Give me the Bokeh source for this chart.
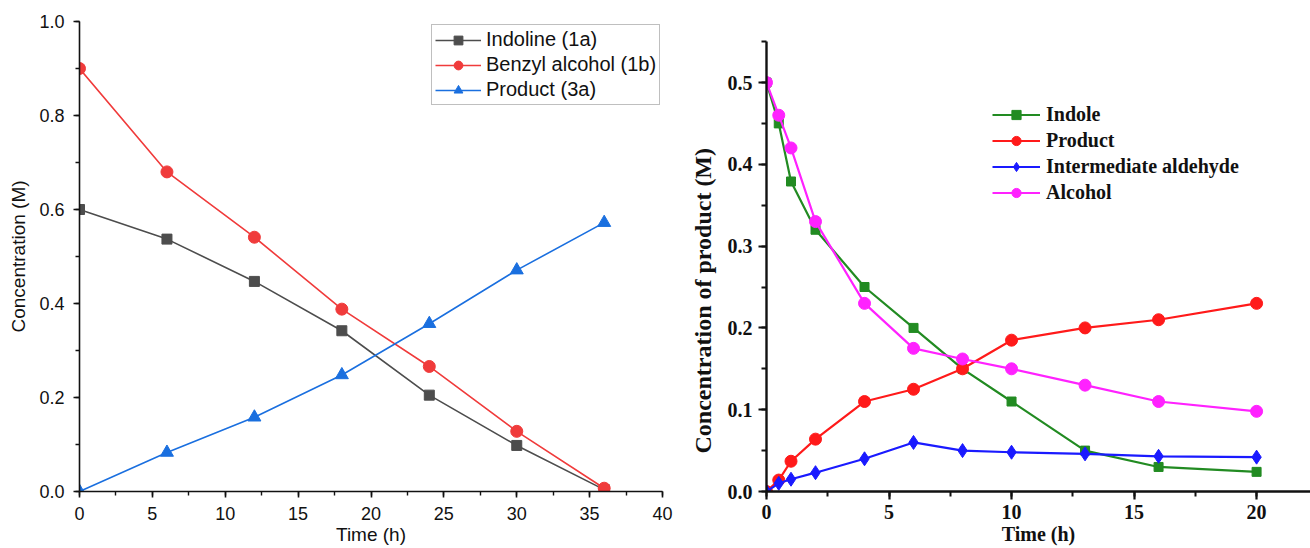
from bokeh.plotting import figure
from bokeh.layouts import row
from bokeh.models import Range1d, SingleIntervalTicker, PrintfTickFormatter, Title
from bokeh.embed import file_html
from bokeh.resources import INLINE

# ---------------- Left panel data ----------------
time_left = [0, 6, 12, 18, 24, 30, 36]
indoline = [0.600, 0.537, 0.447, 0.342, 0.205, 0.098, 0.004]
benzyl_alcohol = [0.900, 0.680, 0.541, 0.388, 0.266, 0.128, 0.007]
product_3a = [0.000, 0.083, 0.158, 0.248, 0.357, 0.471, 0.572]
left_labels = ["Indoline (1a)", "Benzyl alcohol (1b)", "Product (3a)"]

# ---------------- Right panel data ----------------
time_right = [0, 0.5, 1, 2, 4, 6, 8, 10, 13, 16, 20]
indole = [0.500, 0.450, 0.379, 0.320, 0.250, 0.200, 0.150, 0.110, 0.050, 0.030, 0.024]
product = [0.000, 0.014, 0.037, 0.064, 0.110, 0.125, 0.150, 0.185, 0.200, 0.210, 0.230]
aldehyde = [0.000, 0.010, 0.015, 0.023, 0.040, 0.060, 0.050, 0.048, 0.046, 0.043, 0.042]
alcohol = [0.500, 0.460, 0.420, 0.330, 0.230, 0.175, 0.162, 0.150, 0.130, 0.110, 0.098]
right_labels = ["Indole", "Product", "Intermediate aldehyde", "Alcohol"]

SANS = "Liberation Sans"
SERIF = "Liberation Serif"
H = 548
TOP = 21
BOTTOM = 57

# ================= Left figure =================
p1 = figure(width=680, height=H, output_backend="svg", toolbar_location=None,
            x_range=Range1d(0, 40), y_range=Range1d(0, 1.0),
            min_border_left=79, min_border_right=18, min_border_top=TOP, min_border_bottom=BOTTOM)
p1.outline_line_color = None
p1.xgrid.visible = False
p1.ygrid.visible = False

left_series = [
    (indoline, "#4d4d4d", "square", 10),
    (benzyl_alcohol, "#f03b3b", "circle", 12),
    (product_3a, "#1a6fdf", "triangle", 13),
]
for (ys, col, mk, sz), lab in zip(left_series, left_labels):
    p1.line(time_left, ys, line_color=col, line_width=1.6, legend_label=lab)
    p1.scatter(time_left, ys, marker=mk, size=sz, fill_color=col, line_color=col, legend_label=lab)

p1.xaxis.ticker = SingleIntervalTicker(interval=5, num_minor_ticks=2)
p1.yaxis.ticker = SingleIntervalTicker(interval=0.2, num_minor_ticks=2)
p1.yaxis.formatter = PrintfTickFormatter(format="%.1f")
p1.xaxis.axis_label = "Time (h)"
p1.yaxis.axis_label = "Concentration (M)"
for ax in (p1.xaxis[0], p1.yaxis[0]):
    ax.axis_line_color = "#111111"
    ax.axis_line_width = 1.6
    ax.major_tick_line_color = "#111111"
    ax.major_tick_line_width = 1.6
    ax.minor_tick_line_color = "#111111"
    ax.minor_tick_line_width = 1.4
    ax.major_tick_in = 0
    ax.major_tick_out = 6
    ax.minor_tick_in = 0
    ax.minor_tick_out = 4
    ax.major_label_text_font = SANS
    ax.major_label_text_font_size = "18px"
    ax.major_label_text_color = "#111111"
    ax.axis_label_text_font = SANS
    ax.axis_label_text_font_size = "19px"
    ax.axis_label_text_font_style = "normal"
    ax.axis_label_text_color = "#111111"
p1.xaxis.major_label_standoff = 9
p1.xaxis.axis_label_standoff = 1
p1.yaxis.major_label_standoff = 9
p1.yaxis.axis_label_standoff = 7

lg1 = p1.legend[0]
lg1.location = (352, 386)
lg1.border_line_color = "#808080"
lg1.border_line_width = 1
lg1.background_fill_color = "white"
lg1.background_fill_alpha = 1
lg1.padding = 3
lg1.margin = 0
lg1.spacing = 2
lg1.glyph_width = 46
lg1.glyph_height = 22
lg1.label_height = 22
lg1.label_standoff = 5
lg1.label_text_font = SANS
lg1.label_text_font_size = "20px"
lg1.label_text_color = "#111111"

# ================= Right figure =================
p2 = figure(width=630, height=H, output_backend="svg", toolbar_location=None,
            x_range=Range1d(0, 22.2), y_range=Range1d(0, 0.5746),
            min_border_left=86, min_border_right=0, min_border_top=TOP, min_border_bottom=BOTTOM)
p2.outline_line_color = None
p2.xgrid.visible = False
p2.ygrid.visible = False

right_series = [
    (indole, "#228b22", "square", 9),
    (product, "#ff1a1a", "circle", 12),
    (aldehyde, "#1a1aff", "diamond", 14),
    (alcohol, "#ff22ff", "circle", 12),
]
for (ys, col, mk, sz), lab in zip(right_series, right_labels):
    p2.line(time_right, ys, line_color=col, line_width=2.2, legend_label=lab)
    p2.scatter(time_right, ys, marker=mk, size=sz, fill_color=col, line_color=col, legend_label=lab)

p2.xaxis.ticker = SingleIntervalTicker(interval=5, num_minor_ticks=2)
p2.yaxis.ticker = SingleIntervalTicker(interval=0.1, num_minor_ticks=2)
p2.yaxis.formatter = PrintfTickFormatter(format="%.1f")
p2.yaxis.bounds = (0, 0.55)
p2.xaxis.axis_label = "Time (h)"
for ax in (p2.xaxis[0], p2.yaxis[0]):
    ax.axis_line_color = "#111111"
    ax.axis_line_width = 2.4
    ax.major_tick_line_color = "#111111"
    ax.major_tick_line_width = 2.2
    ax.minor_tick_line_color = "#111111"
    ax.minor_tick_line_width = 2.0
    ax.major_tick_in = 0
    ax.major_tick_out = 8
    ax.minor_tick_in = 0
    ax.minor_tick_out = 5
    ax.major_label_text_font = SERIF
    ax.major_label_text_font_size = "20px"
    ax.major_label_text_font_style = "bold"
    ax.major_label_text_color = "#111111"
    ax.axis_label_text_font = SERIF
    ax.axis_label_text_font_style = "bold"
    ax.axis_label_text_color = "#111111"
p2.xaxis.axis_label_text_font_size = "20px"
p2.xaxis.major_label_standoff = 5
p2.xaxis.axis_label_standoff = 1
p2.yaxis.major_label_standoff = 6

# y-axis title as a side title, shifted along the axis like the reference
p2.add_layout(Title(text="Concentration of product (M)", align="left", offset=38,
                    vertical_align="middle", standoff=16,
                    text_font=SERIF, text_font_style="bold",
                    text_font_size="24px", text_color="#111111"), "left")

lg2 = p2.legend[0]
lg2.location = (226, 287)
lg2.border_line_color = None
lg2.background_fill_alpha = 0
lg2.padding = 0
lg2.margin = 0
lg2.spacing = 3
lg2.glyph_width = 48
lg2.glyph_height = 23
lg2.label_height = 23
lg2.label_standoff = 6
lg2.label_text_font = SERIF
lg2.label_text_font_style = "bold"
lg2.label_text_font_size = "20px"
lg2.label_text_color = "#111111"

layout = row(p1, p2)
open("out.html", "w").write(file_html(layout, INLINE))
